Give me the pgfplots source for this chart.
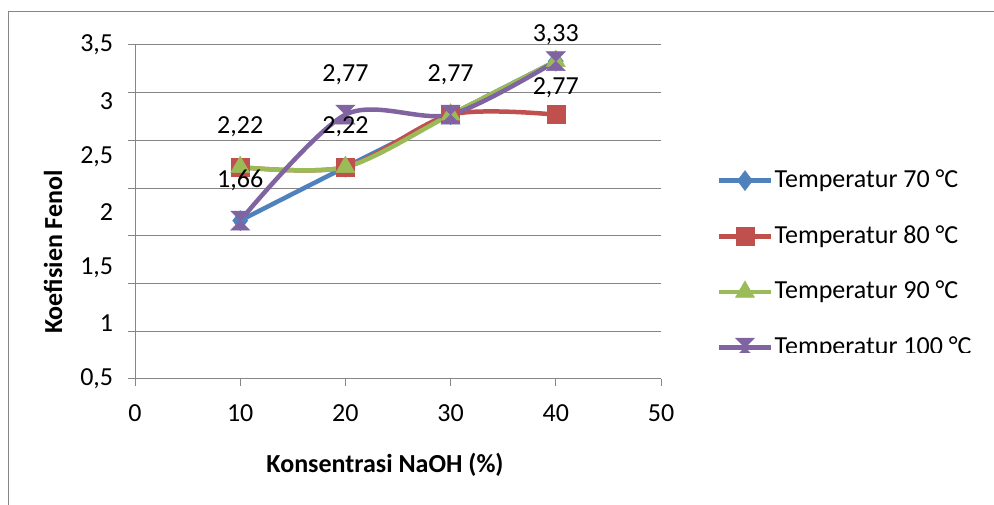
\documentclass[border=0pt]{standalone}
\usepackage{fontspec}
\setmainfont{Carlito}
\usepackage{pgfplots}
\pgfplotsset{compat=1.18}
\definecolor{c70}{HTML}{4F81BD}
\definecolor{c80}{HTML}{C0504D}
\definecolor{c90}{HTML}{9BBB59}
\definecolor{c100}{HTML}{8064A2}
\definecolor{gridgray}{HTML}{868686}
\pgfdeclareplotmark{hourglass}{%
  \pgfpathmoveto{\pgfqpoint{-\pgfplotmarksize}{\pgfplotmarksize}}%
  \pgfpathlineto{\pgfqpoint{\pgfplotmarksize}{\pgfplotmarksize}}%
  \pgfpathlineto{\pgfqpoint{-\pgfplotmarksize}{-\pgfplotmarksize}}%
  \pgfpathlineto{\pgfqpoint{\pgfplotmarksize}{-\pgfplotmarksize}}%
  \pgfpathclose
  \pgfusepathqfillstroke
}
\newcommand{\chartfont}{\fontsize{26bp}{31bp}\selectfont}
\begin{document}
\chartfont
\begin{tikzpicture}
\useasboundingbox (0,0) rectangle (994bp,505bp);
\clip (0,0) rectangle (994bp,505bp);
\draw[gridgray, line width=1bp] (8bp,-10bp) -- (8bp,493bp) -- (1010bp,493bp);
\begin{axis}[
  at={(135bp,126bp)}, anchor=south west,
  scale only axis, width=526bp, height=334bp,
  xmin=0, xmax=50, ymin=0, ymax=3.5,
  axis x line*=bottom, axis y line*=left,
  axis line style={gridgray, line width=1bp, -},
  xtick={0,10,...,50},
  ytick={0,0.5,...,3.5},
  yticklabels={},
  ymajorgrids,
  grid style={gridgray, line width=1bp},
  extra y ticks={0,0.58333,1.16667,1.75,2.33333,2.91667,3.5},
  extra y tick labels={{0,5},{1},{1,5},{2},{2,5},{3},{3,5}},
  extra y tick style={major tick length=0pt, grid=none, yticklabel style={xshift=-13bp}},
  tick align=outside, major tick length=7bp,
  tick style={gridgray, line width=1bp},
  xticklabel style={yshift=-10bp},
  /pgf/number format/assume math mode=true,
  /pgf/number format/.cd, fixed, fixed zerofill, precision=2, use comma, /pgfplots/.cd,
  xticklabel={\pgfmathprintnumber[fixed, precision=0, fixed zerofill=false]{\tick}},
  legend style={at={(1.1065,0.344)}, anchor=west, draw=none, fill=none, inner sep=0pt,
    row sep=30bp, font=\chartfont},
  legend cell align=left,
  legend image code/.code={\draw[mark repeat=2,mark phase=2,#1] plot coordinates {(0bp,0bp) (25.5bp,0bp) (51bp,0bp)};},
  every node near coord/.append style={black, font=\chartfont},
  clip=false,
]
\addplot[c70, line width=4.5bp, smooth, mark=diamond*, mark size=10bp, mark options={solid, line width=0.5bp, fill=c70}]
  coordinates {(10,1.66) (20,2.22) (30,2.77) (40,3.33)};
\addlegendentry{Temperatur 70 °C}
\addplot[c80, line width=4.5bp, smooth, mark=square*, mark size=9bp, mark options={solid, line width=0.5bp, fill=c80}]
  coordinates {(10,2.22) (20,2.22) (30,2.77) (40,2.77)};
\addlegendentry{Temperatur 80 °C}
\addplot[draw=none, forget plot, nodes near coords, every node near coord/.append style={yshift=8bp}]
  coordinates {(40,2.77)};
\addplot[c90, line width=4.5bp, smooth, mark=triangle*, mark size=11bp, mark options={solid, line width=0.5bp, fill=c90}]
  coordinates {(10,2.22) (20,2.22) (30,2.77) (40,3.33)};
\addlegendentry{Temperatur 90 °C}
\addplot[c100, line width=4.5bp, smooth, mark=hourglass, mark size=9.5bp, mark options={solid, line width=0.5bp, fill=c100}]
  coordinates {(10,1.66) (20,2.77) (30,2.77) (40,3.33)};
\addlegendentry{Temperatur 100 °C}
\addplot[draw=none, forget plot, nodes near coords, every node near coord/.append style={yshift=21bp}]
  coordinates {(10,2.22) (20,2.22) (30,2.77) (10,1.66) (20,2.77)};
\addplot[draw=none, forget plot, nodes near coords, every node near coord/.append style={yshift=8bp}]
  coordinates {(40,3.33)};
\end{axis}
\fill[white] (690bp,0bp) rectangle (994bp,152bp);
\node[font=\chartfont\bfseries, rotate=90] at (53bp,253bp) {Koefisien Fenol};
\node[font=\chartfont\bfseries] at (385bp,40bp) {Konsentrasi NaOH (\%)};
\end{tikzpicture}
\end{document}
